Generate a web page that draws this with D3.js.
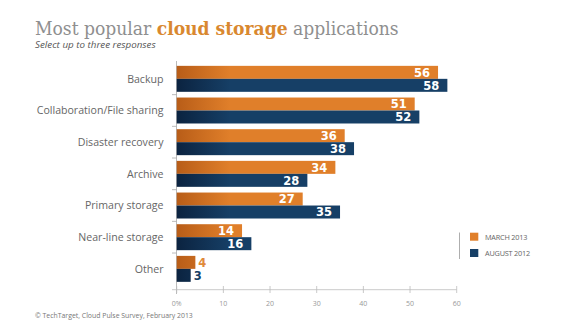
<!DOCTYPE html>
<html><head><meta charset="utf-8">
<script src="https://cdn.jsdelivr.net/npm/d3@7"></script>
<style>body{margin:0;background:#fff}svg{display:block}</style>
</head><body>
<script>
const categories = ["Backup","Collaboration/File sharing","Disaster recovery","Archive","Primary storage","Near-line storage","Other"];
const march2013 = [56,51,36,34,27,14,4];
const august2012 = [58,52,38,28,35,16,3];
const seriesNames = ["MARCH 2013","AUGUST 2012"];
const xTicks = [0,10,20,30,40,50,60];

const W=580,H=325;
const svg=d3.select("body").append("svg").attr("width",W).attr("height",H);
const defs=svg.append("defs");
function grad(id,dark,main){
  const g=defs.append("linearGradient").attr("id",id).attr("gradientUnits","userSpaceOnUse")
    .attr("x1",176.7).attr("x2",230).attr("y1",0).attr("y2",0);
  g.append("stop").attr("offset",0).attr("stop-color",dark);
  g.append("stop").attr("offset",1).attr("stop-color",main);
}
const orange="#e07f2a", blue="#163f66";
grad("gO","#b85d18",orange);
grad("gB","#0b2340",blue);

const x=d3.scaleLinear().domain([0,60]).range([176.7,456.7]);
const y=d3.scaleBand().domain(categories).range([63,284.7]).paddingInner(0.18).paddingOuter(0.09);
const sub=d3.scaleBand().domain(seriesNames).range([0,y.bandwidth()]);

// title
const t=svg.append("text").attr("x",35).attr("y",35).attr("font-family","DejaVu Serif").attr("font-size",18.5).attr("fill","#8f8f8f");
t.append("tspan").text("Most popular ");
t.append("tspan").attr("font-weight","bold").attr("fill","#d9882f").text("cloud storage");
t.append("tspan").text(" applications");
const tw=t.node().getComputedTextLength();
t.attr("transform",`translate(35,0) scale(${364/tw},1) translate(-35,0)`);
svg.append("text").attr("x",35).attr("y",48).attr("font-family","Open Sans").attr("font-style","italic")
  .attr("font-size",9.8).attr("fill","#555").text("Select up to three responses");

// axes lines
const step=y.step();
const seps=d3.range(categories.length+1).map(i=>y.range()[0]+i*step);
svg.append("line").attr("x1",176.5).attr("x2",176.5).attr("y1",seps[0]-2).attr("y2",294).attr("stroke","#aaa").attr("stroke-width",0.8);
svg.selectAll(".sep").data(seps.slice(1,-1)).join("line").attr("x1",172).attr("x2",176.5)
  .attr("y1",d=>d).attr("y2",d=>d).attr("stroke","#aaa").attr("stroke-width",0.8);
svg.append("line").attr("x1",172).attr("x2",x(60)).attr("y1",289.7).attr("y2",289.7).attr("stroke","#bbb").attr("stroke-width",0.8);
svg.selectAll(".xt").data(xTicks).join("line").attr("x1",d=>x(d)).attr("x2",d=>x(d)).attr("y1",286).attr("y2",293).attr("stroke","#bbb").attr("stroke-width",0.8);
svg.selectAll(".xl").data(xTicks).join("text").attr("x",d=>x(d)).attr("y",305.5).attr("text-anchor","middle")
  .attr("font-family","Open Sans").attr("font-size",7).attr("fill","#999").text(d=>d===0?"0%":d);

// category labels
svg.selectAll(".cl").data(categories).join("text").attr("x",163.5).attr("y",d=>y(d)+y.bandwidth()/2+3.7)
  .attr("text-anchor","end").attr("font-family","Open Sans").attr("font-size",10.6).attr("fill","#666").text(d=>d);

// bars
const rows=categories.map((c,i)=>[
  {c,s:seriesNames[0],v:march2013[i],fill:"url(#gO)",col:"#e08a3a"},
  {c,s:seriesNames[1],v:august2012[i],fill:"url(#gB)",col:blue}]).flat();
svg.selectAll(".bar").data(rows).join("rect").attr("x",x(0)).attr("y",d=>y(d.c)+sub(d.s))
  .attr("width",d=>x(d.v)-x(0)).attr("height",sub.bandwidth()).attr("fill",d=>d.fill);
svg.selectAll(".vl").data(rows).join("text")
  .attr("x",d=>d.v<10?x(d.v)+3:x(d.v)-8)
  .attr("text-anchor",d=>d.v<10?"start":"end")
  .attr("y",d=>y(d.c)+sub(d.s)+sub.bandwidth()/2+4.2)
  .attr("font-family","DejaVu Sans").attr("font-weight","bold").attr("font-size",11.5)
  .attr("fill",d=>d.v<10?d.col:"#fff").text(d=>d.v);

// legend
svg.append("line").attr("x1",459.5).attr("x2",459.5).attr("y1",232.5).attr("y2",259).attr("stroke","#999").attr("stroke-width",0.8);
const lg=svg.selectAll(".lg").data(seriesNames).join("g").attr("transform",(d,i)=>`translate(470,${232.7+i*16.3})`);
lg.append("rect").attr("width",8.3).attr("height",8).attr("fill",(d,i)=>i?blue:orange);
lg.append("text").attr("x",15).attr("y",7).attr("font-family","Open Sans").attr("font-size",7.3).attr("fill","#666")
  .attr("letter-spacing",-0.2).text(d=>d);

svg.append("text").attr("x",35).attr("y",317.5).attr("font-family","Open Sans").attr("font-size",6.9).attr("fill","#777")
  .text("© TechTarget, Cloud Pulse Survey, February 2013");
</script>
</body></html>
